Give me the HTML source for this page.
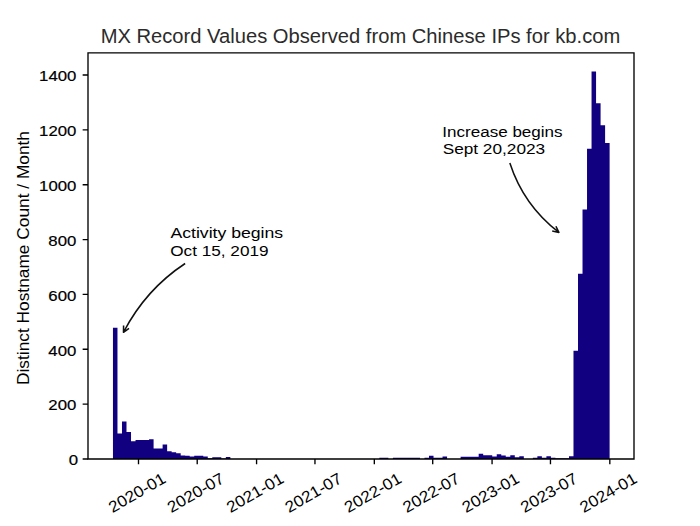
<!DOCTYPE html><html><head><meta charset="utf-8"><style>html,body{margin:0;padding:0;background:#fff;overflow:hidden}svg{display:block;}text{font-family:"Liberation Sans",sans-serif}.yt{stroke:#000;stroke-width:0.2px}</style></head><body>
<svg width="700" height="526" viewBox="0 0 700 526" fill="#000">
<rect width="700" height="526" fill="#fff"/>
<path d="M112.96 459L112.96 327.69L117.47 327.69L117.47 433.41L121.99 433.41L121.99 421.61L126.5 421.61L126.5 432.12L131.02 432.12L131.02 441.31L135.53 441.31L135.53 440.1L140.05 440.1L140.05 440.1L144.56 440.1L144.56 439.94L149.08 439.94L149.08 439.31L153.59 439.31L153.59 448.6L158.11 448.6L158.11 448.6L162.62 448.6L162.62 444.6L167.14 444.6L167.14 451.32L171.65 451.32L171.65 452.14L176.17 452.14L176.17 453.24L180.69 453.24L180.69 455.43L185.2 455.43L185.2 455.71L189.71 455.71L189.71 456.39L194.23 456.39L194.23 455.71L198.75 455.71L198.75 455.71L203.26 455.71L203.26 456.39L207.77 456.39L207.77 458.18L212.29 458.18L212.29 457.35L216.81 457.35L216.81 457.35L221.32 457.35L221.32 458.45L225.83 458.45L225.83 457.08L230.35 457.08L230.35 459L234.86 459L234.86 459L239.38 459L239.38 459L243.89 459L243.89 459L248.41 459L248.41 459L252.93 459L252.93 459L257.44 459L257.44 459L261.95 459L261.95 459L266.47 459L266.47 459L270.98 459L270.98 459L275.5 459L275.5 459L280.01 459L280.01 459L284.53 459L284.53 459L289.04 459L289.04 459L293.56 459L293.56 459L298.07 459L298.07 459L302.59 459L302.59 459L307.1 459L307.1 459L311.62 459L311.62 459L316.13 459L316.13 459L320.65 459L320.65 459L325.16 459L325.16 459L329.68 459L329.68 459L334.19 459L334.19 459L338.71 459L338.71 459L343.22 459L343.22 459L347.74 459L347.74 459L352.25 459L352.25 459L356.77 459L356.77 459L361.28 459L361.28 459L365.8 459L365.8 459L370.31 459L370.31 459L374.83 459L374.83 459L379.34 459L379.34 457.63L383.86 457.63L383.86 457.63L388.37 457.63L388.37 459L392.89 459L392.89 457.63L397.4 457.63L397.4 457.63L401.92 457.63L401.92 457.63L406.43 457.63L406.43 457.63L410.95 457.63L410.95 457.63L415.46 457.63L415.46 457.63L419.98 457.63L419.98 459L424.49 459L424.49 457.63L429.01 457.63L429.01 455.71L433.52 455.71L433.52 457.63L438.04 457.63L438.04 457.63L442.55 457.63L442.55 456.53L447.07 456.53L447.07 459L451.58 459L451.58 459L456.1 459L456.1 459L460.61 459L460.61 456.81L465.13 456.81L465.13 456.81L469.64 456.81L469.64 456.81L474.16 456.81L474.16 456.81L478.67 456.81L478.67 453.79L483.19 453.79L483.19 455.16L487.7 455.16L487.7 455.16L492.22 455.16L492.22 456.53L496.73 456.53L496.73 454.34L501.25 454.34L501.25 455.43L505.76 455.43L505.76 456.81L510.28 456.81L510.28 455.16L514.79 455.16L514.79 457.35L519.31 457.35L519.31 456.26L523.82 456.26L523.82 459L528.34 459L528.34 459L532.86 459L532.86 457.63L537.37 457.63L537.37 456.26L541.88 456.26L541.88 457.63L546.4 457.63L546.4 456.26L550.91 456.26L550.91 457.63L555.43 457.63L555.43 458.18L559.94 458.18L559.94 458.18L564.46 458.18L564.46 458.18L568.98 458.18L568.98 456.26L573.49 456.26L573.49 350.71L578 350.71L578 273.71L582.52 273.71L582.52 209.61L587.03 209.61L587.03 148.71L591.55 148.71L591.55 71.41L596.06 71.41L596.06 103.29L600.58 103.29L600.58 125.2L605.1 125.2L605.1 143.01L609.61 143.01L609.61 459Z" fill="#110080"/>
<path d="M82.65 459H88M82.65 404.14H88M82.65 349.28H88M82.65 294.42H88M82.65 239.56H88M82.65 184.7H88M82.65 129.84H88M82.65 74.98H88M138.5 459V464.35M197.21 459V464.35M256.57 459V464.35M314.96 459V464.35M374.32 459V464.35M432.71 459V464.35M492.07 459V464.35M550.46 459V464.35M609.82 459V464.35" stroke="#000" stroke-width="1.35" fill="none"/>
<path d="M88 459V52.9H634V459Z" stroke="#000" stroke-width="1.35" fill="none" stroke-linejoin="miter"/>
<path d="M185.14 263.51Q145.77 289.44 123.48 332.27M129.01 328.26L123.48 332.27L123.59 325.43M509.84 162.97Q523.59 205.29 558.9 232.42M555.92 226.27L558.9 232.42L552.2 231.12" stroke="#111" stroke-width="1.53" fill="none" stroke-linecap="butt" stroke-linejoin="round"/>
<text class="yt" x="78.15" y="465.3" font-size="15.5" text-anchor="end" textLength="9.34" lengthAdjust="spacingAndGlyphs">0</text>
<text class="yt" x="76.35" y="410.44" font-size="15.5" text-anchor="end" textLength="27.97" lengthAdjust="spacingAndGlyphs">200</text>
<text class="yt" x="76.35" y="355.58" font-size="15.5" text-anchor="end" textLength="27.97" lengthAdjust="spacingAndGlyphs">400</text>
<text class="yt" x="76.35" y="300.72" font-size="15.5" text-anchor="end" textLength="27.97" lengthAdjust="spacingAndGlyphs">600</text>
<text class="yt" x="76.35" y="245.86" font-size="15.5" text-anchor="end" textLength="27.97" lengthAdjust="spacingAndGlyphs">800</text>
<text class="yt" x="76.35" y="191" font-size="15.5" text-anchor="end" textLength="37.28" lengthAdjust="spacingAndGlyphs">1000</text>
<text class="yt" x="76.35" y="136.14" font-size="15.5" text-anchor="end" textLength="37.28" lengthAdjust="spacingAndGlyphs">1200</text>
<text class="yt" x="76.35" y="81.28" font-size="15.5" text-anchor="end" textLength="37.28" lengthAdjust="spacingAndGlyphs">1400</text>
<text transform="translate(136.9 492.6) rotate(-30)" x="0" y="5.57" font-size="16" text-anchor="middle" textLength="62.8" lengthAdjust="spacingAndGlyphs">2020-01</text>
<text transform="translate(195.61 492.6) rotate(-30)" x="0" y="5.57" font-size="16" text-anchor="middle" textLength="62.8" lengthAdjust="spacingAndGlyphs">2020-07</text>
<text transform="translate(254.97 492.6) rotate(-30)" x="0" y="5.57" font-size="16" text-anchor="middle" textLength="62.8" lengthAdjust="spacingAndGlyphs">2021-01</text>
<text transform="translate(313.36 492.6) rotate(-30)" x="0" y="5.57" font-size="16" text-anchor="middle" textLength="62.8" lengthAdjust="spacingAndGlyphs">2021-07</text>
<text transform="translate(372.72 492.6) rotate(-30)" x="0" y="5.57" font-size="16" text-anchor="middle" textLength="62.8" lengthAdjust="spacingAndGlyphs">2022-01</text>
<text transform="translate(431.11 492.6) rotate(-30)" x="0" y="5.57" font-size="16" text-anchor="middle" textLength="62.8" lengthAdjust="spacingAndGlyphs">2022-07</text>
<text transform="translate(490.47 492.6) rotate(-30)" x="0" y="5.57" font-size="16" text-anchor="middle" textLength="62.8" lengthAdjust="spacingAndGlyphs">2023-01</text>
<text transform="translate(548.86 492.6) rotate(-30)" x="0" y="5.57" font-size="16" text-anchor="middle" textLength="62.8" lengthAdjust="spacingAndGlyphs">2023-07</text>
<text transform="translate(608.22 492.6) rotate(-30)" x="0" y="5.57" font-size="16" text-anchor="middle" textLength="62.8" lengthAdjust="spacingAndGlyphs">2024-01</text>
<text x="360.45" y="43.2" font-size="19.43" text-anchor="middle" fill="#2b2b2b" textLength="519.6" lengthAdjust="spacingAndGlyphs">MX Record Values Observed from Chinese IPs for kb.com</text>
<text transform="translate(29 258) rotate(-90)" x="0" y="0" font-size="15.9" text-anchor="middle" textLength="254" lengthAdjust="spacingAndGlyphs">Distinct Hostname Count / Month</text>
<text x="170.4" y="238" font-size="15.5" textLength="112.8" lengthAdjust="spacingAndGlyphs">Activity begins</text><text x="170.2" y="255.9" font-size="15.5" textLength="98.4" lengthAdjust="spacingAndGlyphs">Oct 15, 2019</text>
<text x="442.3" y="137" font-size="15.5" textLength="120.3" lengthAdjust="spacingAndGlyphs">Increase begins</text><text x="442.65" y="154.2" font-size="15.5" textLength="102.5" lengthAdjust="spacingAndGlyphs">Sept 20,2023</text>
</svg></body></html>
